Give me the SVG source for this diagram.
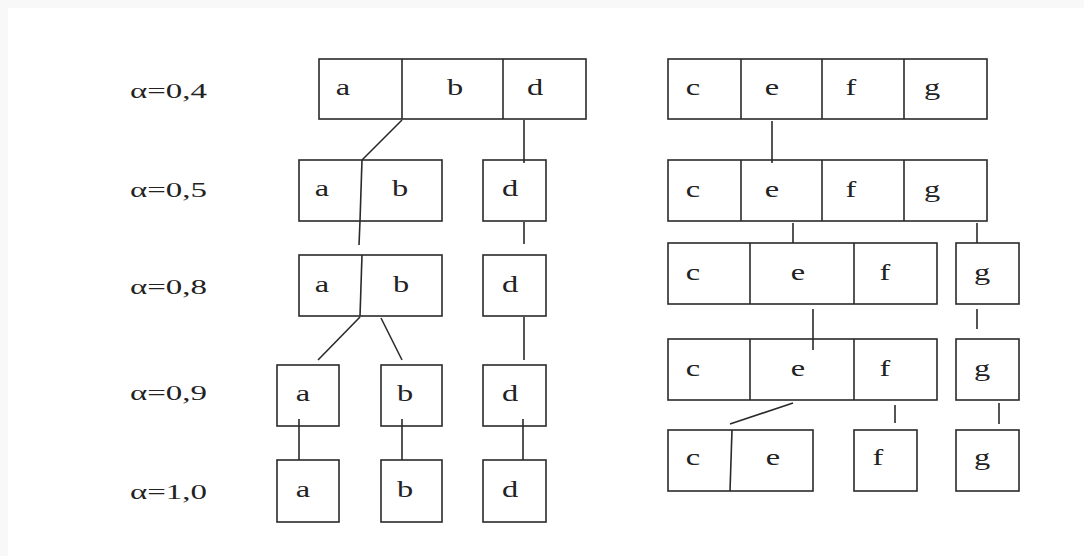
<svg xmlns="http://www.w3.org/2000/svg" width="1084" height="556" viewBox="0 0 1084 556">
<style>
.b{fill:#fff;stroke:#2a2a2a;stroke-width:1.6}
.l{stroke:#2a2a2a;stroke-width:1.6;fill:none}
.t{font-family:"Liberation Serif","Times New Roman",serif;font-size:24px;fill:#222;text-anchor:middle}
.lab{font-family:"Liberation Serif","Times New Roman",serif;font-size:22px;fill:#222}
</style>
<rect width="1084" height="556" fill="#f8f8f8"/>
<rect x="8" y="8" width="1076" height="548" fill="#fff"/>
<g id="labels">
<text class="lab" x="130" y="98" textLength="77" lengthAdjust="spacingAndGlyphs">α=0,4</text>
<text class="lab" x="130" y="197" textLength="77" lengthAdjust="spacingAndGlyphs">α=0,5</text>
<text class="lab" x="130" y="294" textLength="77" lengthAdjust="spacingAndGlyphs">α=0,8</text>
<text class="lab" x="130" y="400" textLength="77" lengthAdjust="spacingAndGlyphs">α=0,9</text>
<text class="lab" x="130" y="499" textLength="77" lengthAdjust="spacingAndGlyphs">α=1,0</text>
</g>
<g id="L04">
<rect class="b" x="319" y="59" width="267" height="60"/>
<line class="l" x1="402" y1="59" x2="402" y2="119"/>
<line class="l" x1="503" y1="59" x2="503" y2="119"/>
<text class="t" transform="translate(343,95) scale(1.35,1)">a</text>
<text class="t" transform="translate(455,95) scale(1.35,1)">b</text>
<text class="t" transform="translate(535,95) scale(1.35,1)">d</text>
</g>
<g id="L05ab">
<rect class="b" x="299" y="160" width="143" height="61"/>
<line class="l" x1="362" y1="160" x2="360" y2="221"/>
<text class="t" transform="translate(322,196) scale(1.35,1)">a</text>
<text class="t" transform="translate(400,196) scale(1.35,1)">b</text>
</g>
<g id="L05d">
<rect class="b" x="483" y="160" width="63" height="61"/>
<text class="t" transform="translate(510,196) scale(1.35,1)">d</text>
</g>
<g id="L08ab">
<rect class="b" x="299" y="255" width="143" height="61"/>
<line class="l" x1="362" y1="255" x2="360" y2="316"/>
<text class="t" transform="translate(322,292) scale(1.35,1)">a</text>
<text class="t" transform="translate(401,292) scale(1.35,1)">b</text>
</g>
<g id="L08d">
<rect class="b" x="483" y="255" width="63" height="61"/>
<text class="t" transform="translate(510,292) scale(1.35,1)">d</text>
</g>
<g id="L09a">
<rect class="b" x="277" y="365" width="62" height="61"/>
<text class="t" transform="translate(303,401) scale(1.35,1)">a</text>
</g>
<g id="L09b">
<rect class="b" x="381" y="365" width="61" height="61"/>
<text class="t" transform="translate(405,401) scale(1.35,1)">b</text>
</g>
<g id="L09d">
<rect class="b" x="483" y="365" width="63" height="61"/>
<text class="t" transform="translate(510,401) scale(1.35,1)">d</text>
</g>
<g id="L10a">
<rect class="b" x="277" y="460" width="62" height="62"/>
<text class="t" transform="translate(303,497) scale(1.35,1)">a</text>
</g>
<g id="L10b">
<rect class="b" x="381" y="460" width="61" height="62"/>
<text class="t" transform="translate(405,497) scale(1.35,1)">b</text>
</g>
<g id="L10d">
<rect class="b" x="483" y="460" width="63" height="62"/>
<text class="t" transform="translate(510,497) scale(1.35,1)">d</text>
</g>
<g id="R04">
<rect class="b" x="668" y="59" width="319" height="60"/>
<line class="l" x1="741" y1="59" x2="741" y2="119"/>
<line class="l" x1="822" y1="59" x2="822" y2="119"/>
<line class="l" x1="904" y1="59" x2="904" y2="119"/>
<text class="t" transform="translate(693,95) scale(1.35,1)">c</text>
<text class="t" transform="translate(772,95) scale(1.35,1)">e</text>
<text class="t" transform="translate(851,95) scale(1.35,1)">f</text>
<text class="t" transform="translate(932,95) scale(1.35,1)">g</text>
</g>
<g id="R05">
<rect class="b" x="668" y="160" width="319" height="61"/>
<line class="l" x1="741" y1="160" x2="741" y2="221"/>
<line class="l" x1="822" y1="160" x2="822" y2="221"/>
<line class="l" x1="904" y1="160" x2="904" y2="221"/>
<text class="t" transform="translate(693,197) scale(1.35,1)">c</text>
<text class="t" transform="translate(772,197) scale(1.35,1)">e</text>
<text class="t" transform="translate(851,197) scale(1.35,1)">f</text>
<text class="t" transform="translate(932,197) scale(1.35,1)">g</text>
</g>
<g id="R08cef">
<rect class="b" x="668" y="243" width="269" height="61"/>
<line class="l" x1="750" y1="243" x2="750" y2="304"/>
<line class="l" x1="854" y1="243" x2="854" y2="304"/>
<text class="t" transform="translate(693,280) scale(1.35,1)">c</text>
<text class="t" transform="translate(798,280) scale(1.35,1)">e</text>
<text class="t" transform="translate(885,280) scale(1.35,1)">f</text>
</g>
<g id="R08g">
<rect class="b" x="956" y="243" width="63" height="61"/>
<text class="t" transform="translate(982,280) scale(1.35,1)">g</text>
</g>
<g id="R09cef">
<rect class="b" x="668" y="339" width="269" height="61"/>
<line class="l" x1="750" y1="339" x2="750" y2="400"/>
<line class="l" x1="854" y1="339" x2="854" y2="400"/>
<text class="t" transform="translate(693,376) scale(1.35,1)">c</text>
<text class="t" transform="translate(798,376) scale(1.35,1)">e</text>
<text class="t" transform="translate(885,376) scale(1.35,1)">f</text>
</g>
<g id="R09g">
<rect class="b" x="956" y="339" width="63" height="61"/>
<text class="t" transform="translate(982,376) scale(1.35,1)">g</text>
</g>
<g id="R10ce">
<rect class="b" x="668" y="430" width="145" height="61"/>
<line class="l" x1="732" y1="430" x2="730" y2="491"/>
<text class="t" transform="translate(693,465) scale(1.35,1)">c</text>
<text class="t" transform="translate(773,465) scale(1.35,1)">e</text>
</g>
<g id="R10f">
<rect class="b" x="854" y="430" width="63" height="61"/>
<text class="t" transform="translate(878,465) scale(1.35,1)">f</text>
</g>
<g id="R10g">
<rect class="b" x="956" y="430" width="63" height="61"/>
<text class="t" transform="translate(982,465) scale(1.35,1)">g</text>
</g>
<g id="connectors">
<line class="l" x1="402" y1="120" x2="362" y2="160"/>
<line class="l" x1="524" y1="120" x2="524" y2="163"/>
<line class="l" x1="360" y1="221" x2="359" y2="245"/>
<line class="l" x1="524" y1="222" x2="524" y2="244"/>
<line class="l" x1="360" y1="317" x2="318" y2="360"/>
<line class="l" x1="381" y1="318" x2="402" y2="360"/>
<line class="l" x1="524" y1="317" x2="524" y2="360"/>
<line class="l" x1="299" y1="419" x2="299" y2="460"/>
<line class="l" x1="402" y1="419" x2="402" y2="460"/>
<line class="l" x1="523" y1="419" x2="523" y2="460"/>
<line class="l" x1="772" y1="121" x2="772" y2="163"/>
<line class="l" x1="793" y1="223" x2="793" y2="243"/>
<line class="l" x1="977" y1="223" x2="977" y2="243"/>
<line class="l" x1="813" y1="309" x2="813" y2="350"/>
<line class="l" x1="977" y1="309" x2="977" y2="329"/>
<line class="l" x1="793" y1="403" x2="730" y2="424"/>
<line class="l" x1="895" y1="405" x2="895" y2="423"/>
<line class="l" x1="999" y1="403" x2="999" y2="424"/>
</g>
</svg>
